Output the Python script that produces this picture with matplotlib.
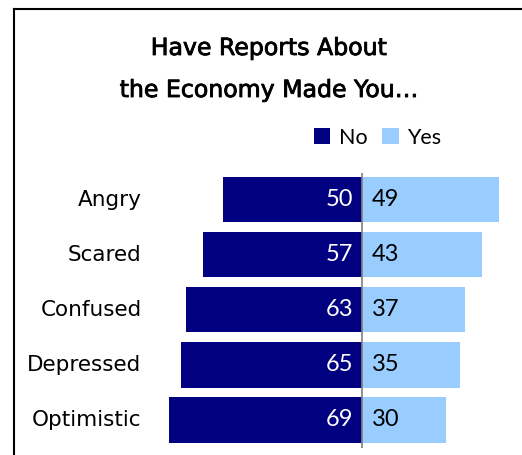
import matplotlib.pyplot as plt
import matplotlib.patheffects as pe
from matplotlib.lines import Line2D

categories = ['Angry', 'Scared', 'Confused', 'Depressed', 'Optimistic']
no_vals = [50, 57, 63, 65, 69]
yes_vals = [49, 43, 37, 35, 30]

navy = '#000080'
light = '#99CCFF'

W, H = 522, 455
fig = plt.figure(figsize=(W / 100, H / 100), dpi=100)

# axes placed so that 0 sits in the middle of the diverging bars
ax = fig.add_axes([138.8 / W, 2 / H, 376.7 / W, 286.2 / H])
ax.set_xlim(-80, 55)
ax.set_ylim(4.6, -0.6)
ax.axis('off')

y = list(range(len(categories)))
no_bars = ax.barh(y, [-v for v in no_vals], height=0.82, color=navy, label='No')
yes_bars = ax.barh(y, yes_vals, height=0.82, color=light, label='Yes')
ax.vlines(0, -0.48, 4.51, color='#808080', linewidth=1.2)

for i, (n, s) in enumerate(zip(no_vals, yes_vals)):
    ax.text(-3.2, i, str(n), ha='right', va='center', color='white',
            fontsize=17, family='Lato')
    ax.text(3.4, i, str(s), ha='left', va='center', color='black',
            fontsize=17, family='Lato')
    ax.text(-79, i, categories[i], ha='right', va='center',
            fontsize=15.5, family='DejaVu Sans')

title_fx = [pe.withStroke(linewidth=0.6, foreground='black')]
fig.text(269 / W, 1 - 55 / H, 'Have Reports About', ha='center',
         va='baseline', fontsize=17, family='DejaVu Sans', path_effects=title_fx)
fig.text(269 / W, 1 - 97 / H, 'the Economy Made You…', ha='center',
         va='baseline', fontsize=17, family='DejaVu Sans', path_effects=title_fx)

fig.legend(handles=[no_bars, yes_bars], loc='center left',
           bbox_to_anchor=(314 / W, 1 - 137.5 / H), ncol=2, frameon=False,
           prop={'family': 'Lato', 'size': 15.5},
           handlelength=0.75, handleheight=0.75, handletextpad=0.4,
           columnspacing=0.7, borderpad=0, borderaxespad=0)

# frame lines along the top and left edge
fig.add_artist(Line2D([14 / W, 14 / W], [0, 1 - 9 / H], color='black', linewidth=1.5))
fig.add_artist(Line2D([14 / W, 1], [1 - 9 / H, 1 - 9 / H], color='black', linewidth=1.5))

fig.savefig('out.png', dpi=100)
